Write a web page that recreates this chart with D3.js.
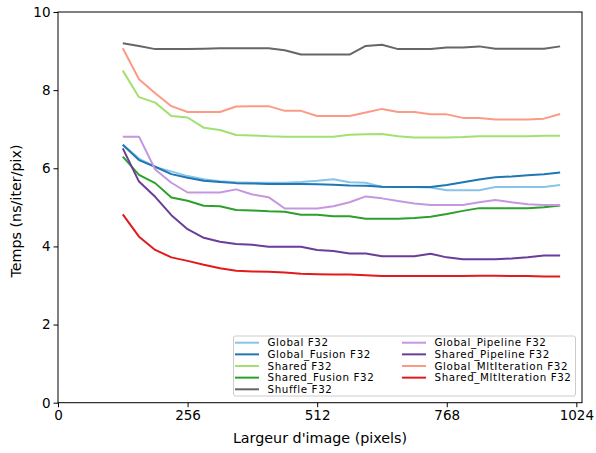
<!DOCTYPE html>
<html><head><meta charset="utf-8">
<script src="https://cdn.jsdelivr.net/npm/d3@7"></script>
<style>body{margin:0;background:#fff}svg{display:block;font-family:"DejaVu Sans",sans-serif}</style>
</head><body><svg id="c" width="596" height="453"></svg>
<script>
const widths = [128,160,192,224,256,288,320,352,384,416,448,480,512,544,576,608,640,672,704,736,768,800,832,864,896,928,960,992];
const xTicks = [0,256,512,768,1024];
const yTicks = [0,2,4,6,8,10];
const seriesNames = ["Global F32","Global_Fusion F32","Shared F32","Shared_Fusion F32","Shuffle F32","Global_Pipeline F32","Shared_Pipeline F32","Global_MltIteration F32","Shared_MltIteration F32"];
const seriesColors = ["#88c4ea","#1f77b4","#a2e070","#2ca02c","#666666","#c497e0","#6a3d9a","#fc9a85","#e31a1c"];
const globalF32 = [6.60,6.25,6.03,5.92,5.80,5.72,5.67,5.64,5.63,5.63,5.63,5.65,5.68,5.72,5.64,5.63,5.52,5.52,5.52,5.51,5.44,5.44,5.44,5.52,5.52,5.52,5.52,5.57];
const globalFusion = [6.60,6.21,6.04,5.85,5.76,5.68,5.65,5.62,5.61,5.60,5.60,5.60,5.59,5.58,5.56,5.55,5.53,5.52,5.52,5.52,5.57,5.64,5.71,5.77,5.79,5.82,5.85,5.89];
const sharedF32 = [8.50,7.82,7.68,7.34,7.30,7.04,6.98,6.85,6.84,6.82,6.81,6.81,6.81,6.81,6.86,6.87,6.88,6.82,6.79,6.79,6.79,6.80,6.82,6.82,6.82,6.82,6.83,6.83];
const sharedFusion = [6.30,5.83,5.62,5.25,5.17,5.04,5.03,4.93,4.92,4.90,4.89,4.81,4.81,4.77,4.77,4.71,4.71,4.71,4.73,4.76,4.83,4.91,4.98,4.98,4.98,4.98,5.00,5.05];
const shuffleF32 = [9.20,9.13,9.05,9.05,9.05,9.06,9.07,9.07,9.07,9.07,9.02,8.91,8.91,8.91,8.91,9.13,9.16,9.05,9.05,9.05,9.09,9.09,9.12,9.06,9.06,9.06,9.06,9.12];
const globalPipeline = [6.81,6.81,5.97,5.63,5.38,5.38,5.38,5.46,5.33,5.26,4.97,4.97,4.97,5.03,5.13,5.28,5.23,5.16,5.10,5.06,5.06,5.06,5.13,5.19,5.13,5.08,5.06,5.06];
const sharedPipeline = [6.51,5.66,5.27,4.80,4.44,4.22,4.12,4.06,4.04,3.99,3.99,3.99,3.91,3.88,3.82,3.82,3.75,3.75,3.75,3.81,3.72,3.67,3.67,3.67,3.69,3.72,3.77,3.77];
const globalMlt = [9.07,8.28,7.92,7.59,7.44,7.44,7.44,7.58,7.59,7.59,7.47,7.47,7.34,7.34,7.34,7.43,7.52,7.44,7.44,7.38,7.38,7.29,7.29,7.25,7.25,7.25,7.27,7.39];
const sharedMlt = [4.82,4.25,3.91,3.72,3.63,3.53,3.44,3.38,3.36,3.35,3.33,3.30,3.29,3.28,3.28,3.26,3.24,3.24,3.24,3.24,3.24,3.24,3.25,3.25,3.24,3.24,3.23,3.23];
const seriesValues = [globalF32,globalFusion,sharedF32,sharedFusion,shuffleF32,globalPipeline,sharedPipeline,globalMlt,sharedMlt];

const L=58,R=582,T=12,B=402.7;
const svg=d3.select("#c");
const x=d3.scaleLinear().domain([0,1035.2]).range([L,R]);
const y=d3.scaleLinear().domain([0,10]).range([B,T]);

const line=d3.line().x((d,i)=>x(widths[i])).y(d=>y(d));
seriesValues.forEach((vals,k)=>{
  svg.append("path").datum(vals).attr("d",line).attr("fill","none")
    .attr("stroke",seriesColors[k]).attr("stroke-width",2).attr("stroke-linejoin","round");
});

// spines
svg.append("rect").attr("x",L).attr("y",T).attr("width",R-L).attr("height",B-T)
  .attr("fill","none").attr("stroke","#000").attr("stroke-width",1);

const xa=svg.append("g").attr("transform",`translate(0,${B})`)
  .call(d3.axisBottom(x).tickValues(xTicks).tickSize(4.5).tickPadding(3).tickFormat(d3.format("d")));
const ya=svg.append("g").attr("transform",`translate(${L},0)`)
  .call(d3.axisLeft(y).tickValues(yTicks).tickSize(4.5).tickPadding(3).tickFormat(d3.format("d")));
[xa,ya].forEach(a=>{a.select(".domain").remove();a.selectAll("text").attr("font-size",13.5).attr("fill","#000").attr("font-family","DejaVu Sans");a.selectAll("line").attr("stroke","#000");});

svg.append("text").attr("x",(L+R)/2).attr("y",443).attr("text-anchor","middle")
  .attr("font-size",14.3).attr("font-family","DejaVu Sans").text("Largeur d'image (pixels)");
svg.append("text").attr("transform","translate(21,211) rotate(-90)").attr("text-anchor","middle")
  .attr("font-size",14.3).attr("font-family","DejaVu Sans").text("Temps (ns/iter/pix)");

// legend
const lg=svg.append("g");
lg.append("rect").attr("x",233.5).attr("y",336).attr("width",342).attr("height",60).attr("rx",2)
  .attr("fill","#fff").attr("fill-opacity",0.8).attr("stroke","#ccc").attr("stroke-width",1);
seriesNames.forEach((n,k)=>{
  const col=k<5?0:1, row=k<5?k:k-5;
  const hx=col?402:235, ty=342.7+row*11.65;
  lg.append("line").attr("x1",hx).attr("x2",hx+24).attr("y1",ty).attr("y2",ty)
    .attr("stroke",seriesColors[k]).attr("stroke-width",2);
  lg.append("text").attr("x",hx+32.5).attr("y",ty).attr("dy","0.35em")
    .attr("font-size",10.3).attr("letter-spacing","0.6px").attr("font-family","DejaVu Sans").text(n);
});
</script></body></html>
